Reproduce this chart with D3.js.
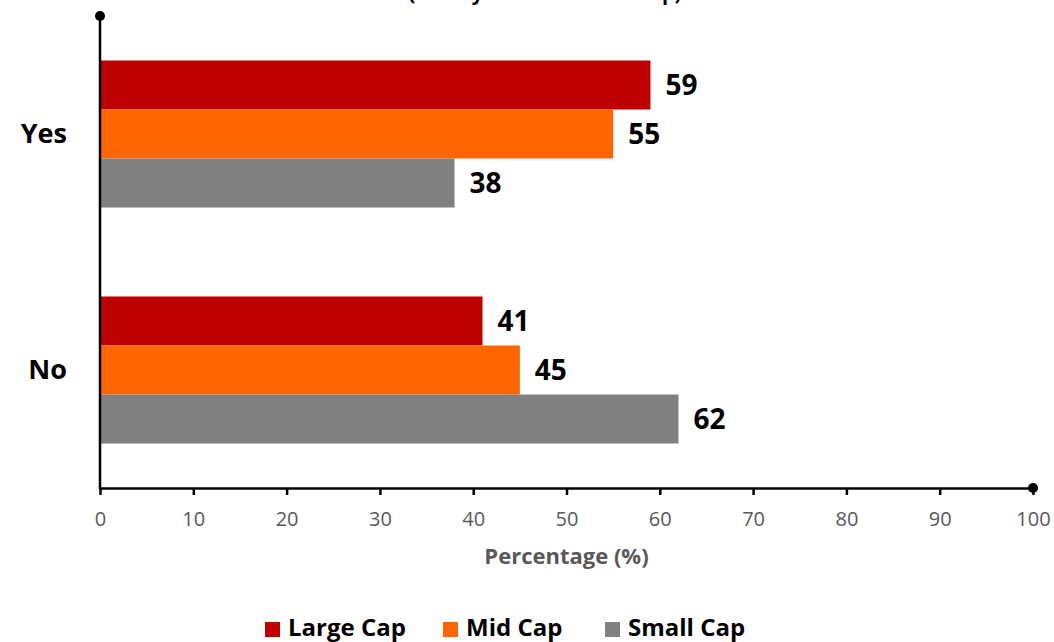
<!DOCTYPE html>
<html><head><meta charset="utf-8">
<script src="https://cdn.jsdelivr.net/npm/d3@7"></script>
<style>body{margin:0;background:#fff;font-family:"Open Sans",sans-serif;}</style>
</head><body>
<svg id="c" width="1054" height="642"></svg>
<script>
const categories = ["Yes", "No"];
const seriesNames = ["Large Cap", "Mid Cap", "Small Cap"];
const largeCap = [59, 41];
const midCap = [55, 45];
const smallCap = [38, 62];
const xTicks = [0, 10, 20, 30, 40, 50, 60, 70, 80, 90, 100];
const colors = ["#C00000", "#FF6600", "#808080"];
const titleText = "(Survey Across Market Cap)";
const xTitle = "Percentage (%)";

const series = [largeCap, midCap, smallCap];
const svg = d3.select("#c");
const font = "'Open Sans', sans-serif";

const x = d3.scaleLinear().domain([0, 100]).range([100, 1033]);
const y0 = d3.scaleBand().domain(categories).range([16, 488]).paddingInner(0.377).paddingOuter(0.1885);
const y1 = d3.scaleBand().domain(seriesNames).range([0, y0.bandwidth()]);

// title (clipped at top like reference)
svg.append("text").attr("x", 545).attr("y", 0).attr("text-anchor", "middle")
  .attr("font-family", font).attr("font-weight", "bold").attr("font-size", 20).attr("fill", "#000")
  .text(titleText);

const g = svg.append("g");
categories.forEach((c, ci) => {
  seriesNames.forEach((s, si) => {
    const v = series[si][ci];
    const yy = y0(c) + y1(s);
    g.append("rect").attr("x", x(0)).attr("y", yy).attr("width", x(v) - x(0))
      .attr("height", y1.bandwidth()).attr("fill", colors[si]);
    g.append("text").attr("x", x(v) + 15).attr("y", yy + y1.bandwidth() / 2)
      .attr("dy", "0.36em").attr("font-family", font).attr("font-weight", "bold")
      .attr("font-size", 28).attr("fill", "#000").text(v);
  });
});

// category labels
categories.forEach(c => {
  svg.append("text").attr("x", 67).attr("y", y0(c) + y0.bandwidth() / 2)
    .attr("dy", "0.35em").attr("text-anchor", "end").attr("font-family", font)
    .attr("font-weight", "bold").attr("font-size", 27).attr("fill", "#000").text(c);
});

// x axis
const xAxis = d3.axisBottom(x).tickValues(xTicks).tickSize(7).tickPadding(17).tickSizeOuter(0);
const ax = svg.append("g").attr("transform", "translate(0,488)").call(xAxis);
ax.select(".domain").attr("stroke", "#000").attr("stroke-width", 2.5);
ax.selectAll(".tick line").attr("stroke", "#000").attr("stroke-width", 2.5).attr("y1", 0);
ax.selectAll(".tick text").attr("font-family", font).attr("font-size", 20).attr("fill", "#595959");

// y axis line
svg.append("line").attr("x1", x(0)).attr("x2", x(0)).attr("y1", 16).attr("y2", 489)
  .attr("stroke", "#000").attr("stroke-width", 2.5);
svg.append("circle").attr("cx", x(0)).attr("cy", 16).attr("r", 5).attr("fill", "#000");
svg.append("circle").attr("cx", x(100)).attr("cy", 488).attr("r", 5).attr("fill", "#000");

// x title
svg.append("text").attr("x", (x(0) + x(100)) / 2).attr("y", 564).attr("text-anchor", "middle")
  .attr("font-family", font).attr("font-weight", "bold").attr("font-size", 22).attr("fill", "#595959")
  .text(xTitle);

// legend
const legX = [265, 443, 605];
seriesNames.forEach((s, i) => {
  svg.append("rect").attr("x", legX[i]).attr("y", 622).attr("width", 15).attr("height", 15).attr("fill", colors[i]);
  svg.append("text").attr("x", legX[i] + 23).attr("y", 636)
    .attr("font-family", font).attr("font-weight", "bold").attr("font-size", 24).attr("fill", "#000").text(s);
});
</script>
</body></html>
